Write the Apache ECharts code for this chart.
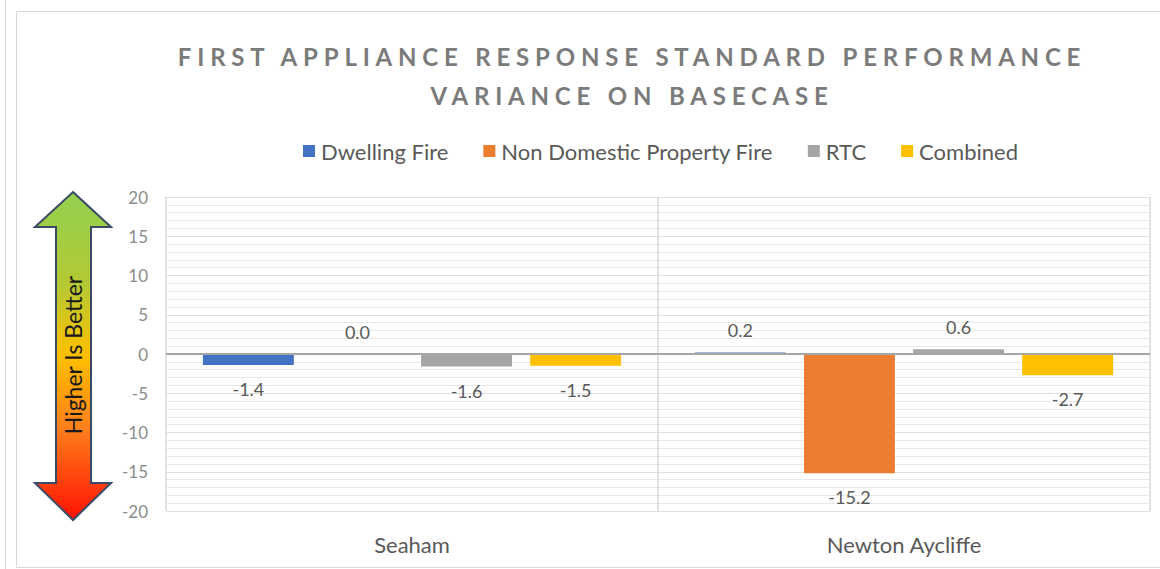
<!DOCTYPE html>
<html>
<head>
<meta charset="utf-8">
<script src="https://cdn.jsdelivr.net/npm/echarts@6/dist/echarts.min.js"></script>
<style>
html,body{margin:0;padding:0;background:#fff;}
#chart{width:1160px;height:569px;}
</style>
</head>
<body>
<div id="chart"></div>
<script>
const titleLines = ['FIRST APPLIANCE RESPONSE STANDARD PERFORMANCE', 'VARIANCE ON BASECASE'];
const categories = ['Seaham', 'Newton Aycliffe'];
const seriesNames = ['Dwelling Fire', 'Non Domestic Property Fire', 'RTC', 'Combined'];
const dwellingFire = [-1.4, 0.2];
const nonDomesticFire = [0.0, -15.2];
const rtc = [-1.6, 0.6];
const combined = [-1.5, -2.7];
const yTicks = [-20, -15, -10, -5, 0, 5, 10, 15, 20];
const colors = ['#4472c4', '#ed7d31', '#a5a5a5', '#ffc000'];
const arrowText = 'Higher Is Better';

const FONT = 'Lato, "Open Sans", sans-serif';
const values = [dwellingFire, nonDomesticFire, rtc, combined];

function itemData(arr) {
  return arr.map(v => ({
    value: v,
    label: { position: v < 0 ? 'bottom' : 'top', distance: v < 0 ? 15 : 13 }
  }));
}

const series = values.map((arr, i) => {
  const s = {
    name: seriesNames[i],
    type: 'bar',
    data: itemData(arr),
    itemStyle: { color: colors[i] },
    barGap: '20%',
    barCategoryGap: '15%',
    label: {
      show: true,
      color: '#595959',
      fontFamily: FONT,
      fontSize: 18,
      formatter: p => Number(p.value).toFixed(1)
    }
  };
  if (i === 0) {
    s.markLine = {
      silent: true,
      symbol: ['none', 'none'],
      label: { show: false },
      lineStyle: { color: '#a6a6a6', width: 2, type: 'solid' },
      data: [{ yAxis: 0 }],
      z: 10
    };
  }
  return s;
});

const chart = echarts.init(document.getElementById('chart'), null, { renderer: 'svg' });
const option = {
  animation: false,
  backgroundColor: '#ffffff',
  title: {
    text: titleLines.join('\n'),
    left: 627,
    top: 32,
    textAlign: 'center',
    textStyle: {
      fontFamily: FONT,
      fontSize: 24,
      fontWeight: 'bold',
      color: '#7b7b7b',
      lineHeight: 39
    }
  },
  legend: {
    data: seriesNames,
    left: 298,
    top: 135,
    itemWidth: 12,
    itemHeight: 12,
    itemGap: 35,
    icon: 'rect',
    textStyle: { fontFamily: FONT, fontSize: 22, color: '#595959', padding: [0, 0, 0, 1] }
  },
  grid: { left: 166, right: 10, top: 197, bottom: 58, containLabel: false },
  xAxis: {
    type: 'category',
    data: categories,
    axisLine: { show: false },
    axisTick: { show: false },
    axisLabel: { fontFamily: FONT, fontSize: 22, color: '#595959', margin: 22 },
    splitLine: { show: true, lineStyle: { color: '#d9d9d9', width: 1.5 } }
  },
  yAxis: {
    type: 'value',
    min: yTicks[0],
    max: yTicks[yTicks.length - 1],
    interval: 5,
    axisLine: { show: false },
    axisTick: { show: false },
    axisLabel: { fontFamily: FONT, fontSize: 17, color: '#8c8c8c', margin: 18 },
    splitLine: { show: true, lineStyle: { color: '#e0e0e0', width: 1 } },
    minorTick: { show: false, splitNumber: 5 },
    minorSplitLine: { show: true, lineStyle: { color: '#e8e8e8', width: 1 } }
  },
  graphic: [
    { type: 'line', shape: { x1: 5.5, y1: 0, x2: 5.5, y2: 569 }, style: { stroke: '#d9d9d9', lineWidth: 1 }, silent: true },
    { type: 'rect', shape: { x: 16.5, y: 11.5, width: 1160, height: 556 }, style: { stroke: '#d9d9d9', fill: 'none', lineWidth: 1 }, silent: true },
    {
      type: 'polygon',
      silent: true,
      shape: {
        points: [[73, 192], [111, 227], [91, 227], [91, 483], [111, 483], [73, 520], [35, 483], [56, 483], [56, 227], [35, 227]]
      },
      style: {
        fill: new echarts.graphic.LinearGradient(0, 0, 0, 1, [
          { offset: 0, color: '#92d050' },
          { offset: 0.28, color: '#b4c934' },
          { offset: 0.5, color: '#ffc000' },
          { offset: 0.72, color: '#ff7f1c' },
          { offset: 1, color: '#ff1200' }
        ]),
        stroke: '#3b4a66',
        lineWidth: 2
      }
    },
    {
      type: 'text',
      silent: true,
      x: 73,
      y: 355,
      rotation: Math.PI / 2,
      style: {
        text: arrowText,
        fontFamily: FONT,
        fontSize: 23,
        fill: '#1a1a1a',
        align: 'center',
        verticalAlign: 'middle'
      }
    }
  ],
  series: series
};
chart.setOption(option);

function spaceTitle() {
  document.querySelectorAll('#chart text').forEach(t => {
    const s = (t.textContent || '').trim();
    if (titleLines.indexOf(s) >= 0) {
      t.style.letterSpacing = '5.8px';
    }
  });
}
spaceTitle();
chart.on('finished', spaceTitle);
setTimeout(spaceTitle, 0);
setTimeout(spaceTitle, 200);
</script>
</body>
</html>
